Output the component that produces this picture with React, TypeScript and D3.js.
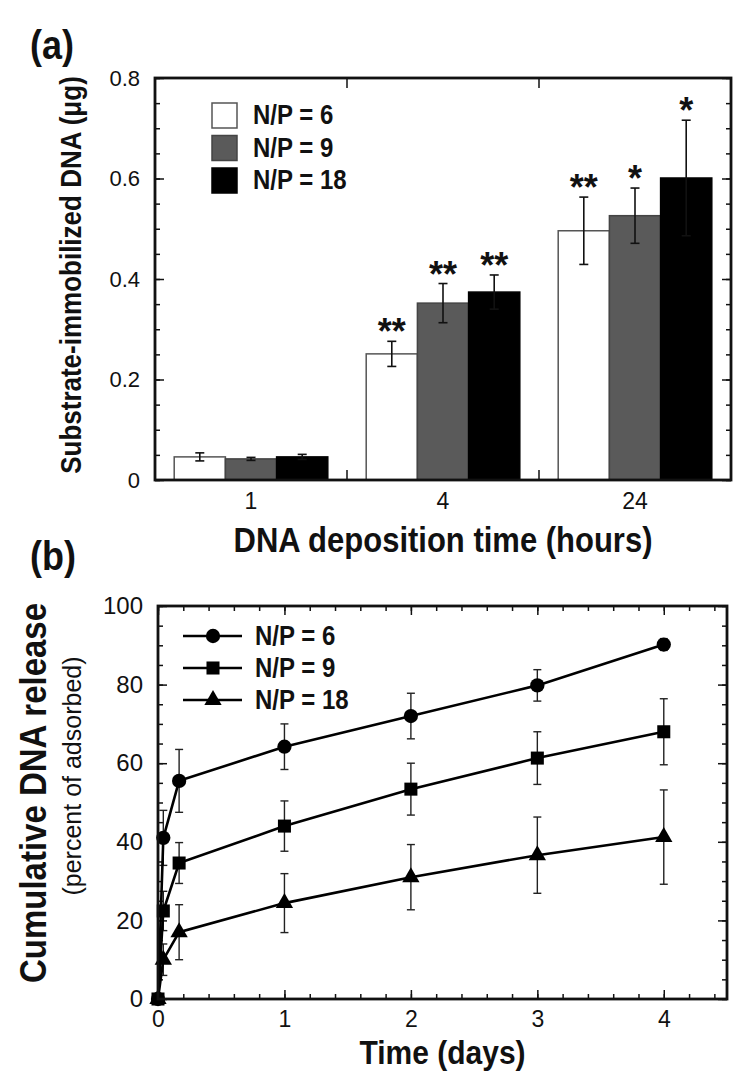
import * as d3 from "d3";
import { useRef, useEffect } from "react";

// (a) substrate-immobilized DNA (µg) vs deposition time
const depositionHours = ["1", "4", "24"];
const ratioLabels = ["N/P = 6", "N/P = 9", "N/P = 18"];
const dnaNp6 = [0.046, 0.251, 0.496];
const dnaNp9 = [0.042, 0.352, 0.526];
const dnaNp18 = [0.046, 0.374, 0.601];
const dnaErrNp6 = [0.008, 0.025, 0.067];
const dnaErrNp9 = [0.003, 0.039, 0.055];
const dnaErrNp18 = [0.005, 0.034, 0.115];
const starsNp6 = ["", "**", "**"];
const starsNp9 = ["", "**", "*"];
const starsNp18 = ["", "**", "*"];
const dnaTicks = [0, 0.2, 0.4, 0.6, 0.8];

// (b) cumulative release (% of adsorbed) vs days
const releaseDays = [0, 0.042, 0.167, 1, 2, 3, 4];
const releaseNp6 = [0, 41, 55.5, 64.2, 72, 79.8, 90.2];
const releaseNp9 = [0, 22.4, 34.6, 44, 53.4, 61.3, 68];
const releaseNp18 = [0, 10, 17, 24.4, 31, 36.6, 41.2];
const releaseErrNp6 = [0, 7, 8, 5.8, 5.8, 4, 1.5];
const releaseErrNp9 = [0, 5, 5.2, 6.4, 6.6, 6.7, 8.4];
const releaseErrNp18 = [0, 4, 7, 7.5, 8.3, 9.7, 12];
const releaseTicks = [0, 20, 40, 60, 80, 100];
const dayTicks = [0, 1, 2, 3, 4];

const FONT = "'Liberation Sans', Arial, Helvetica, sans-serif";
const STRETCH = 1.12; // the source figure's lettering is a bit tall/narrow

export default function App() {
  const svgRef = useRef<SVGSVGElement | null>(null);

  useEffect(() => {
    if (!svgRef.current) return;
    const svg = d3.select(svgRef.current);
    svg.selectAll("*").remove();
    svg.attr("font-family", FONT);

    // ---------- panel (a) ----------
    const a = { left: 155, right: 731, top: 78, bottom: 480 };
    const dnaMeans = [dnaNp6, dnaNp9, dnaNp18];
    const dnaErrs = [dnaErrNp6, dnaErrNp9, dnaErrNp18];
    const dnaStars = [starsNp6, starsNp9, starsNp18];
    const barFills = ["#ffffff", "#5a5a5a", "#000000"];
    const barStrokes = ["#555555", "#444444", "#000000"];

    const xGroup = d3
      .scaleBand()
      .domain(depositionHours)
      .range([a.left, a.right])
      .paddingInner(0.2)
      .paddingOuter(0.1);
    const xSeries = d3
      .scaleBand()
      .domain(ratioLabels)
      .range([0, xGroup.bandwidth()]);
    const yDna = d3.scaleLinear().domain([0, 0.8]).range([a.bottom, a.top]);

    const bars = depositionHours.flatMap((h, i) =>
      ratioLabels.map((r, j) => ({
        h,
        r,
        j,
        v: dnaMeans[j][i],
        e: dnaErrs[j][i],
        s: dnaStars[j][i],
      }))
    );

    const ga = svg.append("g");

    ga.selectAll(".bar")
      .data(bars)
      .join("rect")
      .attr("class", "bar")
      .attr("x", (d) => xGroup(d.h)! + xSeries(d.r)!)
      .attr("y", (d) => yDna(d.v))
      .attr("width", xSeries.bandwidth())
      .attr("height", (d) => a.bottom - yDna(d.v))
      .attr("fill", (d) => barFills[d.j])
      .attr("stroke", (d) => barStrokes[d.j])
      .attr("stroke-width", 1.5);

    const barErr = ga.selectAll(".err").data(bars).join("g").attr("class", "err")
      .attr("stroke", "#111").attr("stroke-width", 1.6);
    const bx = (d: any) => xGroup(d.h)! + xSeries(d.r)! + xSeries.bandwidth() / 2;
    barErr.append("line")
      .attr("x1", bx).attr("x2", bx)
      .attr("y1", (d) => yDna(d.v - d.e)).attr("y2", (d) => yDna(d.v + d.e));
    barErr.append("line")
      .attr("x1", (d) => bx(d) - 4.5).attr("x2", (d) => bx(d) + 4.5)
      .attr("y1", (d) => yDna(d.v + d.e)).attr("y2", (d) => yDna(d.v + d.e));
    barErr.append("line")
      .attr("x1", (d) => bx(d) - 4.5).attr("x2", (d) => bx(d) + 4.5)
      .attr("y1", (d) => yDna(d.v - d.e)).attr("y2", (d) => yDna(d.v - d.e));

    ga.selectAll(".star")
      .data(bars.filter((d) => d.s))
      .join("text")
      .attr("class", "star")
      .attr("x", bx)
      .attr("y", (d) => yDna(d.v + d.e) + 3)
      .attr("text-anchor", "middle")
      .attr("font-size", 36)
      .attr("font-weight", "bold")
      .attr("fill", "#111")
      .text((d) => d.s);

    // ticks (inward) and frame
    const styleAxis = (sel: any, size: number) => {
      sel.select(".domain").remove();
      sel.selectAll(".tick line").attr("stroke", "#111").attr("stroke-width", 1.5);
      sel.selectAll("text").attr("font-size", size).attr("fill", "#111").attr("font-family", FONT);
    };

    ga.append("g")
      .attr("transform", `translate(${a.left},0)`)
      .call(d3.axisLeft(yDna).tickValues(dnaTicks).tickSize(-9).tickPadding(15)
        .tickFormat((d) => (d === 0 ? "0" : d3.format(".1f")(d as number))))
      .call((g) => styleAxis(g, 22));
    ga.append("g")
      .attr("transform", `translate(${a.left},0)`)
      .call(d3.axisLeft(yDna).tickValues(d3.range(0, 0.8001, 0.05)).tickSize(-5).tickFormat(() => ""))
      .call((g) => styleAxis(g, 22));
    ga.append("g")
      .attr("transform", `translate(${a.right},0)`)
      .call(d3.axisRight(yDna).tickValues(dnaTicks).tickSize(-9).tickFormat(() => ""))
      .call((g) => styleAxis(g, 22));
    ga.append("g")
      .attr("transform", `translate(${a.right},0)`)
      .call(d3.axisRight(yDna).tickValues(d3.range(0, 0.8001, 0.05)).tickSize(-5).tickFormat(() => ""))
      .call((g) => styleAxis(g, 22));
    ga.append("g")
      .attr("transform", `translate(0,${a.bottom})`)
      .call(d3.axisBottom(xGroup).tickSize(0).tickPadding(13))
      .call((g) => styleAxis(g, 23));

    // group boundary ticks top/bottom
    const bounds = depositionHours.slice(1).map((h, i) =>
      (xGroup(depositionHours[i])! + xGroup.bandwidth() + xGroup(h)!) / 2
    );
    ga.selectAll(".gtick")
      .data(bounds.flatMap((x) => [{ x, y0: a.top, y1: a.top + 10 }, { x, y0: a.bottom, y1: a.bottom - 10 }]))
      .join("line")
      .attr("x1", (d) => d.x).attr("x2", (d) => d.x)
      .attr("y1", (d) => d.y0).attr("y2", (d) => d.y1)
      .attr("stroke", "#111").attr("stroke-width", 1.5);

    ga.append("rect")
      .attr("x", a.left).attr("y", a.top)
      .attr("width", a.right - a.left).attr("height", a.bottom - a.top)
      .attr("fill", "none").attr("stroke", "#111").attr("stroke-width", 2.8);

    // legend (a)
    const legA = ga.append("g").attr("transform", "translate(212,103)");
    legA.selectAll("g")
      .data(ratioLabels)
      .join("g")
      .attr("transform", (_, i) => `translate(0,${i * 32.5})`)
      .call((g) => {
        g.append("rect")
          .attr("width", 25).attr("height", 25)
          .attr("fill", (_, i) => barFills[i])
          .attr("stroke", (_, i) => barStrokes[i]).attr("stroke-width", 1.5);
        g.append("text")
          .attr("transform", `translate(41,21) scale(1,${STRETCH})`)
          .attr("font-size", 24).attr("font-weight", "bold").attr("fill", "#111")
          .text((d) => d);
      });

    ga.append("text").attr("transform", `translate(30,59) scale(1,${STRETCH})`)
      .attr("font-size", 36).attr("font-weight", "bold").attr("fill", "#111").text("(a)");
    ga.append("text")
      .attr("transform", `translate(81,${(a.top + a.bottom) / 2 - 4}) rotate(-90) scale(1,${STRETCH})`)
      .attr("text-anchor", "middle")
      .attr("font-size", 26).attr("font-weight", "bold").attr("fill", "#111")
      .text("Substrate-immobilized DNA (\u03bcg)");
    ga.append("text")
      .attr("transform", `translate(${(a.left + a.right) / 2},552) scale(1,${STRETCH})`)
      .attr("text-anchor", "middle")
      .attr("font-size", 31).attr("font-weight", "bold").attr("fill", "#111")
      .text("DNA deposition time (hours)");

    // ---------- panel (b) ----------
    const b = { left: 158, right: 727, top: 606, bottom: 999 };
    const xDay = d3.scaleLinear().domain([0, 4.5]).range([b.left, b.right]);
    const yRel = d3.scaleLinear().domain([0, 100]).range([b.bottom, b.top]);
    const relMeans = [releaseNp6, releaseNp9, releaseNp18];
    const relErrs = [releaseErrNp6, releaseErrNp9, releaseErrNp18];
    const shapes = [d3.symbolCircle, d3.symbolSquare, d3.symbolTriangle];
    const shapeSizes = [160, 170, 130];

    const gb = svg.append("g");

    // ticks
    const minorDays = d3.range(0, 4.5001, 0.2);
    const minorRel = d3.range(0, 100.001, 5);
    gb.append("g").attr("transform", `translate(${b.left},0)`)
      .call(d3.axisLeft(yRel).tickValues(releaseTicks).tickSize(-9).tickPadding(15))
      .call((g) => styleAxis(g, 24));
    gb.append("g").attr("transform", `translate(${b.left},0)`)
      .call(d3.axisLeft(yRel).tickValues(minorRel).tickSize(-5).tickFormat(() => ""))
      .call((g) => styleAxis(g, 24));
    gb.append("g").attr("transform", `translate(${b.right},0)`)
      .call(d3.axisRight(yRel).tickValues(releaseTicks).tickSize(-9).tickFormat(() => ""))
      .call((g) => styleAxis(g, 24));
    gb.append("g").attr("transform", `translate(${b.right},0)`)
      .call(d3.axisRight(yRel).tickValues(minorRel).tickSize(-5).tickFormat(() => ""))
      .call((g) => styleAxis(g, 24));
    gb.append("g").attr("transform", `translate(0,${b.bottom})`)
      .call(d3.axisBottom(xDay).tickValues(dayTicks).tickSize(-9).tickPadding(12).tickFormat(d3.format("d")))
      .call((g) => styleAxis(g, 23));
    gb.append("g").attr("transform", `translate(0,${b.bottom})`)
      .call(d3.axisBottom(xDay).tickValues(minorDays).tickSize(-5).tickFormat(() => ""))
      .call((g) => styleAxis(g, 23));
    gb.append("g").attr("transform", `translate(0,${b.top})`)
      .call(d3.axisTop(xDay).tickValues(dayTicks).tickSize(-9).tickFormat(() => ""))
      .call((g) => styleAxis(g, 23));
    gb.append("g").attr("transform", `translate(0,${b.top})`)
      .call(d3.axisTop(xDay).tickValues(minorDays).tickSize(-5).tickFormat(() => ""))
      .call((g) => styleAxis(g, 23));

    // error bars
    relMeans.forEach((vals, j) => {
      const pts = releaseDays.map((t, i) => ({ t, v: vals[i], e: relErrs[j][i] })).filter((d) => d.e > 0);
      const ge = gb.append("g").attr("stroke", "#222").attr("stroke-width", 1.4);
      const eg = ge.selectAll("g").data(pts).join("g");
      eg.append("line")
        .attr("x1", (d) => xDay(d.t)).attr("x2", (d) => xDay(d.t))
        .attr("y1", (d) => yRel(d.v - d.e)).attr("y2", (d) => yRel(d.v + d.e));
      [1, -1].forEach((s) =>
        eg.append("line")
          .attr("x1", (d) => xDay(d.t) - 4).attr("x2", (d) => xDay(d.t) + 4)
          .attr("y1", (d) => yRel(d.v + s * d.e)).attr("y2", (d) => yRel(d.v + s * d.e))
      );
    });

    // lines + markers
    const line = d3.line<number>()
      .x((_, i) => xDay(releaseDays[i]))
      .y((d) => yRel(d));
    relMeans.forEach((vals, j) => {
      gb.append("path")
        .attr("d", line(vals))
        .attr("fill", "none").attr("stroke", "#000").attr("stroke-width", 2.6);
      gb.append("g")
        .selectAll("path")
        .data(vals)
        .join("path")
        .attr("transform", (d, i) => `translate(${xDay(releaseDays[i])},${yRel(d)})`)
        .attr("d", d3.symbol().type(shapes[j]).size(shapeSizes[j])()!)
        .attr("fill", "#000");
    });

    gb.append("rect")
      .attr("x", b.left).attr("y", b.top)
      .attr("width", b.right - b.left).attr("height", b.bottom - b.top)
      .attr("fill", "none").attr("stroke", "#111").attr("stroke-width", 2.8);

    // legend (b)
    const legB = gb.append("g").attr("transform", "translate(183,636)");
    legB.selectAll("g")
      .data(ratioLabels)
      .join("g")
      .attr("transform", (_, i) => `translate(0,${i * 32})`)
      .call((g) => {
        g.append("line").attr("x1", 0).attr("x2", 59)
          .attr("stroke", "#000").attr("stroke-width", 2.6);
        g.append("path")
          .attr("transform", "translate(30,0)")
          .attr("d", (_, i) => d3.symbol().type(shapes[i]).size(shapeSizes[i])()!)
          .attr("fill", "#000");
        g.append("text")
          .attr("transform", `translate(72,9) scale(1,${STRETCH})`)
          .attr("font-size", 24).attr("font-weight", "bold").attr("fill", "#111")
          .text((d) => d);
      });

    gb.append("text").attr("transform", `translate(30,570) scale(1,${STRETCH})`)
      .attr("font-size", 36).attr("font-weight", "bold").attr("fill", "#111").text("(b)");
    gb.append("text")
      .attr("transform", `translate(46,793) rotate(-90) scale(1,${STRETCH})`)
      .attr("text-anchor", "middle")
      .attr("font-size", 33).attr("font-weight", "bold").attr("fill", "#111")
      .text("Cumulative DNA release");
    gb.append("text")
      .attr("transform", `translate(81,776) rotate(-90)`)
      .attr("text-anchor", "middle")
      .attr("font-size", 25).attr("fill", "#111")
      .text("(percent of adsorbed)");
    gb.append("text")
      .attr("transform", `translate(${(b.left + b.right) / 2},1064) scale(1,${STRETCH})`)
      .attr("text-anchor", "middle")
      .attr("font-size", 30).attr("font-weight", "bold").attr("fill", "#111")
      .text("Time (days)");
  }, []);

  return (
    <svg
      ref={svgRef}
      width={750}
      height={1087}
      style={{ position: "absolute", left: 0, top: 0, background: "#fff" }}
    ></svg>
  );
}
